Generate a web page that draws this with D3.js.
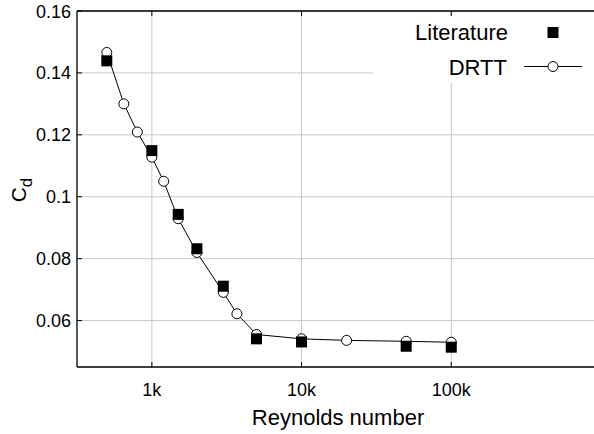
<!DOCTYPE html>
<html><head><meta charset="utf-8">
<script src="https://cdn.jsdelivr.net/npm/d3@7"></script>
<style>body{margin:0;background:#fff}svg{display:block;font-family:"Liberation Sans",Arial,sans-serif}</style>
</head><body><svg id="c" width="594" height="434"></svg>
<script>
const litRe = [500, 1000, 1500, 2000, 3000, 5000, 10000, 50000, 100000];
const litCd = [0.1439, 0.1149, 0.0943, 0.0832, 0.0711, 0.0541, 0.0531, 0.0517, 0.0514];
const drttRe = [500, 650, 800, 1000, 1200, 1500, 2000, 3000, 3700, 5000, 10000, 20000, 50000, 100000];
const drttCd = [0.1466, 0.1300, 0.1209, 0.1128, 0.1050, 0.0929, 0.0820, 0.0691, 0.0622, 0.0555, 0.0541, 0.0536, 0.0533, 0.0530];
const xTicks = [1000, 10000, 100000];
const xTickLabels = ["1k", "10k", "100k"];
const yTicks = [0.06, 0.08, 0.1, 0.12, 0.14, 0.16];
const yTickLabels = ["0.06", "0.08", "0.1", "0.12", "0.14", "0.16"];
const seriesNames = ["Literature", "DRTT"];

const svg = d3.select("#c");
const L = 77, T = 11, B = 367;
const x = d3.scaleLog().domain([Math.pow(10, 2.5), 1e6]).range([L, L + 3.5 * 149.7]);
const y = d3.scaleLinear().domain([0.045, 0.16]).range([B, T]);
const R = 594;

// grid
const g = svg.append("g");
g.selectAll(".gx").data(xTicks).join("line")
  .attr("x1", d => x(d)).attr("x2", d => x(d)).attr("y1", T).attr("y2", B)
  .attr("stroke", "#c8c8c8").attr("stroke-width", 1);
g.selectAll(".gy").data(yTicks).join("line")
  .attr("x1", L).attr("x2", R).attr("y1", d => y(d)).attr("y2", d => y(d))
  .attr("stroke", "#c8c8c8").attr("stroke-width", 1);

// legend background (covers grid)
svg.append("rect").attr("x", 373).attr("y", 15).attr("width", R - 373).attr("height", 68).attr("fill", "#fff");

// axes
const ax = svg.append("g");
ax.append("line").attr("x1", L).attr("x2", R).attr("y1", B).attr("y2", B).attr("stroke", "#000").attr("stroke-width", 1.3);
ax.append("line").attr("x1", L).attr("x2", R).attr("y1", T).attr("y2", T).attr("stroke", "#000").attr("stroke-width", 1.3);
ax.append("line").attr("x1", L).attr("x2", L).attr("y1", T).attr("y2", B).attr("stroke", "#000").attr("stroke-width", 1.3);
// inward ticks
ax.selectAll(".tb").data(xTicks).join("line").attr("x1", d => x(d)).attr("x2", d => x(d)).attr("y1", B).attr("y2", B - 5).attr("stroke", "#000");
ax.selectAll(".tt").data(xTicks).join("line").attr("x1", d => x(d)).attr("x2", d => x(d)).attr("y1", T).attr("y2", T + 5).attr("stroke", "#000");
ax.selectAll(".tl").data(yTicks).join("line").attr("x1", L).attr("x2", L + 5).attr("y1", d => y(d)).attr("y2", d => y(d)).attr("stroke", "#000");

// tick labels
ax.selectAll(".xl").data(xTicks).join("text")
  .attr("x", d => x(d)).attr("y", 396).attr("text-anchor", "middle")
  .attr("font-size", 18).text((d, i) => xTickLabels[i]);
ax.selectAll(".yl").data(yTicks).join("text")
  .attr("x", 71).attr("y", d => y(d) + 6.5).attr("text-anchor", "end")
  .attr("font-size", 18).text((d, i) => yTickLabels[i]);

// axis titles
svg.append("text").attr("x", 338).attr("y", 425).attr("text-anchor", "middle").attr("font-size", 22).text("Reynolds number");
const yt = svg.append("text").attr("transform", "translate(26,190) rotate(-90)").attr("text-anchor", "middle").attr("font-size", 21);
yt.append("tspan").text("C");
yt.append("tspan").attr("dy", 6).attr("font-size", 17).text("d");

// DRTT line + circles
const line = d3.line().x((d, i) => x(drttRe[i])).y(d => y(d));
svg.append("path").datum(drttCd).attr("d", line).attr("fill", "none").attr("stroke", "#000").attr("stroke-width", 1);
svg.selectAll(".cir").data(drttCd).join("circle")
  .attr("cx", (d, i) => x(drttRe[i])).attr("cy", d => y(d)).attr("r", 5)
  .attr("fill", "#fff").attr("stroke", "#000").attr("stroke-width", 1);

// Literature squares
const s = 11;
svg.selectAll(".sq").data(litCd).join("rect")
  .attr("x", (d, i) => x(litRe[i]) - s / 2).attr("y", d => y(d) - s / 2)
  .attr("width", s).attr("height", s).attr("fill", "#000");

// legend
const lg = svg.append("g");
lg.append("text").attr("x", 508).attr("y", 40).attr("text-anchor", "end").attr("font-size", 22).text(seriesNames[0]);
lg.append("rect").attr("x", 553 - 5.5).attr("y", 32.5 - 5.5).attr("width", 11).attr("height", 11).attr("fill", "#000");
lg.append("text").attr("x", 507).attr("y", 74.5).attr("text-anchor", "end").attr("font-size", 22).text(seriesNames[1]);
lg.append("line").attr("x1", 524).attr("x2", 582).attr("y1", 66.5).attr("y2", 66.5).attr("stroke", "#000");
lg.append("circle").attr("cx", 553).attr("cy", 66.5).attr("r", 5).attr("fill", "#fff").attr("stroke", "#000");
</script></body></html>
